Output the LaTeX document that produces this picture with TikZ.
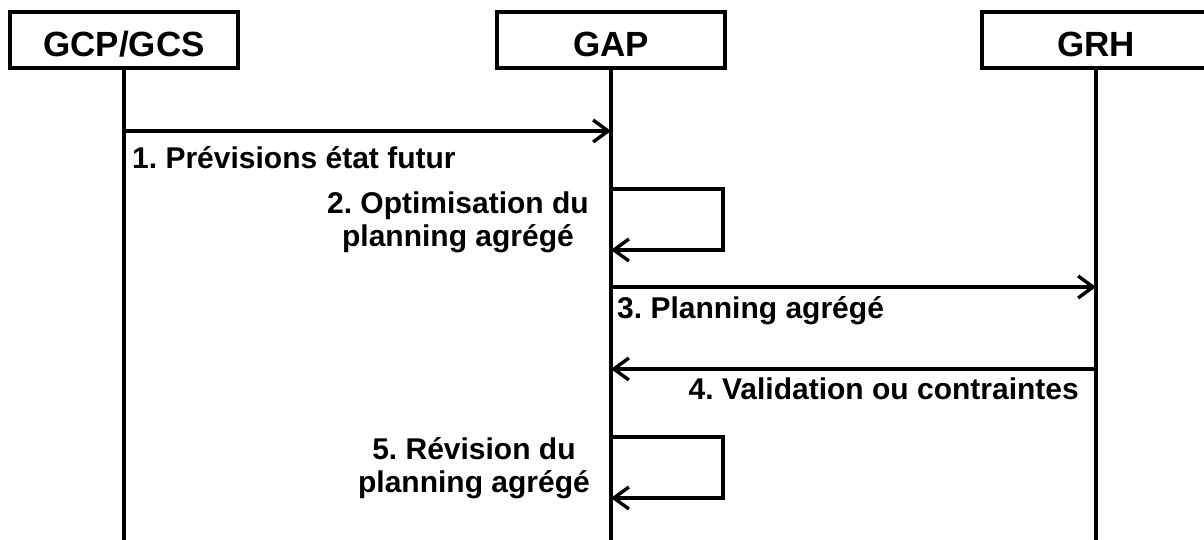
\documentclass[tikz,border=0pt]{standalone}
\usepackage{fontspec}
\setmainfont{Liberation Sans}
\usepackage{tikz}
\usetikzlibrary{arrows.meta,positioning,calc}
\frenchspacing
\tikzset{
  actor/.style={draw, line width=3.6pt, minimum width=228pt, minimum height=56pt, inner sep=0pt,
    text height=33pt, text depth=0pt, font=\fontsize{35}{40}\selectfont\bfseries},
  life/.style={line width=3.6pt},
  msg/.style={-{Straight Barb[length=15pt, width=22pt, line width=3.4pt]}, line width=3.4pt},
  lbl/.style={inner sep=0pt, align=center, font=\fontsize{30}{33}\selectfont\bfseries}
}

\begin{document}
\begin{tikzpicture}[x=1pt, y=-1pt]
  \useasboundingbox (0,0) rectangle (1204,540);
  \clip (0,0) rectangle (1204,540);
  % participants
  \node[actor] (gcp) at (124,40) {GCP/GCS};
  \node[actor] (gap) at (611,40) {GAP};
  \node[actor, draw=none, outer sep=0pt] (grh) at (1096,40) {GRH};
  % GRH box runs off the right edge
  \draw[life] (grh.north east) -- (grh.north west) -- (grh.south west) -- (grh.south east);
  \coordinate (bottom) at (0,545);
  \draw[life] (gcp) -- (gcp |- bottom);
  \draw[life] (gap) -- (gap |- bottom);
  \draw[life] (grh) -- (grh |- bottom);
  % message rows
  \coordinate (y1) at (0,131);
  \coordinate (y2a) at (0,189);
  \coordinate (y2b) at (0,250);
  \coordinate (y3) at (0,287);
  \coordinate (y4) at (0,369);
  \coordinate (y5a) at (0,437);
  \coordinate (y5b) at (0,498);
  \draw[msg] (gcp |- y1) -- (gap |- y1);
  \draw[msg] (gap |- y2a) -- ++(112,0) |- (gap |- y2b);
  \draw[msg] (gap |- y3) -- (grh |- y3);
  \draw[msg] (grh |- y4) -- (gap |- y4);
  \draw[msg] (gap |- y5a) -- ++(112,0) |- (gap |- y5b);
  % labels
  \node[lbl, anchor=base west] (l1) at (132,169) {1. Prévisions état futur};
  \node[lbl, anchor=east] (l2) at (589,222) {2. Optimisation du\\planning agrégé};
  \node[lbl, anchor=base west] (l3) at (617,318) {3. Planning agrégé};
  \node[lbl, anchor=base east] (l4) at (1079,399) {4. Validation ou contraintes};
  \node[lbl, anchor=east] (l5) at (590,468) {5. Révision du\\planning agrégé};
\end{tikzpicture}
\end{document}
